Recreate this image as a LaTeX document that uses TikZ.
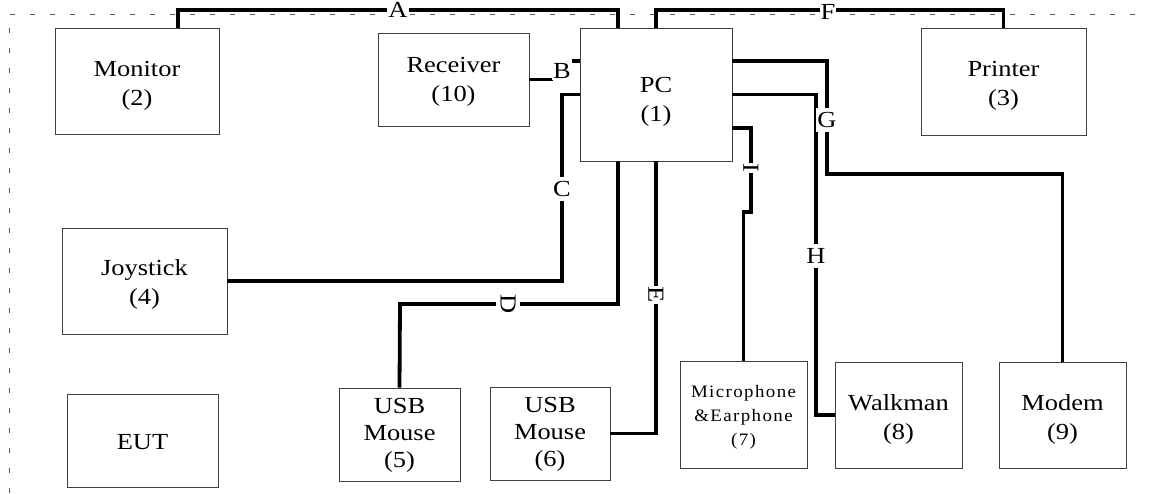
\documentclass[tikz,border=0pt]{standalone}
\usepackage{fontspec}
\setmainfont{Liberation Serif}[FakeStretch=1.15]
\newfontfamily\micfont{Liberation Serif}[FakeStretch=1.08,LetterSpace=8]
\begin{document}
\begin{tikzpicture}[x=1pt,y=-1pt,
  box/.style={draw=black!75,line width=0.8pt,inner sep=0pt},
  txt/.style={align=center,inner sep=0pt,font=\fontsize{23}{29}\selectfont},
  wire/.style={line width=3.8pt,black},
  lbl/.style={fill=white,inner xsep=1pt,inner ysep=4pt,font=\fontsize{23}{26}\selectfont},
  border/.style={draw=black!65,line width=0.9pt,dash pattern=on 5pt off 15pt}]
\useasboundingbox (0,0) rectangle (1150,493);
\draw[border] (9,493) -- (9,14) -- (1150,14);
% boxes
\node[box,minimum width=164,minimum height=106] (mon) at (137,81) {};
\node[box,minimum width=151,minimum height=93] (rec) at (453.5,79.5) {};
\node[box,minimum width=152,minimum height=133] (pc) at (656,94.5) {};
\node[box,minimum width=165,minimum height=107] (pr) at (1003.5,81.5) {};
\node[box,minimum width=165,minimum height=106] (joy) at (144.5,281) {};
\node[box,minimum width=151,minimum height=93] (eut) at (142.5,440.5) {};
\node[box,minimum width=121,minimum height=93] (u5) at (399.5,434.5) {};
\node[box,minimum width=120,minimum height=93] (u6) at (550,433.5) {};
\node[box,minimum width=127,minimum height=107] (mic) at (743.5,414.5) {};
\node[box,minimum width=127,minimum height=106] (wal) at (898.5,415) {};
\node[box,minimum width=127,minimum height=106] (mod) at (1062.5,415) {};
% box texts
\node[txt] (tmon) at ([yshift=-4.5pt]mon.center) {Monitor\\(2)};
\node[txt] (trec) at ([yshift=-2pt]rec.center) {Receiver\\(10)};
\node[txt] (tpc) at ([yshift=-7pt]pc.center) {PC\\(1)};
\node[txt] (tpr) at ([yshift=-4pt]pr.center) {Printer\\(3)};
\node[txt] (tjoy) at ([yshift=-3pt]joy.center) {Joystick\\(4)};
\node[txt] (teut) at ([yshift=-1.5pt]eut.center) {EUT};
\node[txt,font=\fontsize{23}{27}\selectfont] (tu5) at ([yshift=-1pt]u5.center) {USB\\Mouse\\(5)};
\node[txt,font=\fontsize{23}{27}\selectfont] (tu6) at ([yshift=-1pt]u6.center) {USB\\Mouse\\(6)};
\node[txt,font=\micfont\fontsize{17.5}{24}\selectfont] (tmic) at ([yshift=-3pt]mic.center) {Microphone\\\&Earphone\\(7)};
\node[txt] (twal) at ([yshift=-4pt]wal.center) {Walkman\\(8)};
\node[txt] (tmod) at ([yshift=-4pt]mod.center) {Modem\\(9)};
% connectors
\coordinate (cK) at (562,281);
\coordinate (dK) at (400,304);
\coordinate (gK) at (827,174);
\coordinate (hK) at (816,415);
\coordinate (iK) at (751,212);
\draw[wire] ([xshift=41pt]mon.north) -- ++(0,-18) -| ([xshift=-38pt]pc.north);
\draw[wire] (pc.north) -- ++(0,-18) -| (pr.north);
\draw[wire] (rec.east) -- ++(24,0);
\draw[wire] ([yshift=33.5pt]pc.west) -- ++(-8,0);
\draw[wire] (pc.west) -| (cK) -- (joy.east);
\draw[wire] ([xshift=-38pt]pc.south) |- (dK) -- (u5.north);
\draw[wire] (pc.south) |- (u6.east);
\draw[wire] ([yshift=33.5pt]pc.east) -| (gK) -| (mod.north);
\draw[wire] (pc.east) -| (hK) -- (wal.west);
\draw[wire] ([yshift=-33.5pt]pc.east) -| (iK) -| (mic.north);
% labels
\node[lbl,inner ysep=1pt] (la) at (398,10) {A};
\node[lbl,inner ysep=1pt] (lb) at (562,71) {B};
\node[lbl] (lc) at (562,189) {C};
\node[lbl,rotate=-90] (ld) at (508,304) {D};
\node[lbl,rotate=-90] (le) at (656,295) {E};
\node[lbl,inner ysep=1pt] (lf) at (828,12) {F};
\node[lbl] (lg) at (827,120) {G};
\node[lbl] (lh) at (816,256) {H};
\node[lbl,rotate=-90] (li) at (751,168) {I};
\end{tikzpicture}
\end{document}
